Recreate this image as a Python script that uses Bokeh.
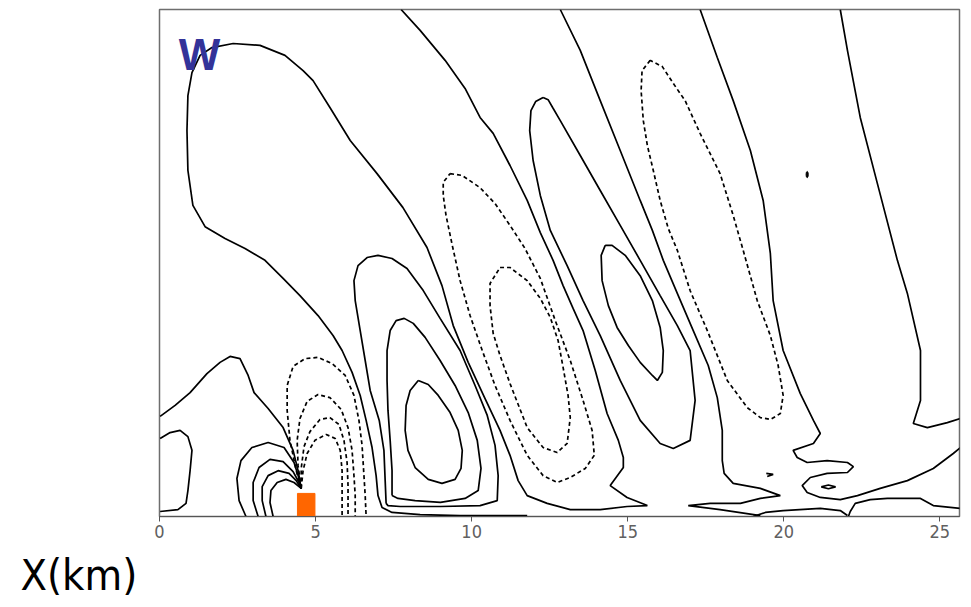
from bokeh.plotting import figure
from bokeh.models import Range1d, FixedTicker, Label, Title
from bokeh.embed import file_html
from bokeh.resources import INLINE

# ---- data: contour lines of w (x in km, z in km) ----
# solid = zero / positive contours, dashed = negative contours
zero_main = [(11.78,0.03),(9.63,0.03),(8.35,0.06),(7.45,0.13),(7.13,0.29),(7.00,0.67),(6.94,1.31),
    (6.81,2.21),(6.62,3.08),(6.43,3.88),(6.17,4.62),(5.85,5.32),(5.56,5.80),(5.08,6.44),(4.50,7.08),
    (3.96,7.63),(3.38,8.21),(2.74,8.59),(2.10,8.91),(1.46,9.29),(1.07,9.97),(0.91,11.09),(0.88,12.37),
    (0.91,13.49),(1.04,14.23),(1.30,14.78),(1.68,15.03),(2.36,15.16),(3.22,15.10),(4.02,14.78),
    (4.60,14.29),(4.92,13.97),(5.46,13.11),(6.11,12.05),(6.97,10.99),(7.80,9.90),(8.57,8.62),
    (9.05,7.40),(9.41,6.12),(9.89,4.94),(10.43,3.78),(10.91,2.76),(11.23,1.96),(11.49,1.15),
    (11.78,0.67),(12.42,0.42),(13.16,0.22),(14.12,0.22),(14.98,0.32),(15.63,0.35),(14.98,0.61),
    (14.44,0.99),(14.86,1.57),(14.86,1.89),(14.70,2.44),(14.34,3.30),(13.96,4.68),(13.57,5.96),
    (13.25,6.67),(12.93,7.40),(12.61,8.21),(12.20,9.10),(11.78,10.13),(11.23,11.25),(10.69,12.28),
    (10.27,12.79),(9.79,13.72),(9.15,14.62),(8.35,15.58),(7.74,16.25)]
hump = [(0.02,3.21),(0.50,3.56),(0.98,3.97),(1.52,4.58),(1.94,4.94),(2.26,5.13),(2.58,5.06),
    (2.84,4.52),(3.03,3.97),(3.48,3.46),(3.96,2.85),(4.28,2.12),(4.44,1.47),(4.54,0.90)]
left_loop = [(0.02,2.50),(0.34,2.69),(0.66,2.76),(0.91,2.56),(1.04,2.12),(0.98,1.47),(0.91,0.83),
    (0.85,0.42),(0.59,0.22),(0.02,0.16)]
pos_src_1 = [(2.77,0.0),(2.55,0.51),(2.48,1.22),(2.61,1.79),(2.96,2.21),(3.48,2.37),(3.99,2.21),
    (4.31,1.73),(4.47,1.22),(4.54,0.90)]
pos_src_2 = [(3.16,0.0),(3.00,0.51),(3.00,1.09),(3.19,1.57),(3.54,1.83),(3.96,1.76),(4.28,1.44),
    (4.47,1.09),(4.54,0.90)]
pos_src_3 = [(3.41,0.0),(3.29,0.51),(3.29,0.96),(3.48,1.31),(3.80,1.47),(4.15,1.38),(4.38,1.15),(4.54,0.90)]
pos_src_4 = [(3.64,0.0),(3.54,0.45),(3.57,0.83),(3.77,1.09),(4.05,1.19),(4.31,1.09),(4.54,0.90)]
neg_src_1 = [(4.54,0.90),(4.38,1.47),(4.18,2.44),(4.09,3.40),(4.09,4.20),(4.28,4.81),(4.66,5.06),
    (5.08,5.10),(5.53,4.90),(5.95,4.52),(6.23,3.88),(6.39,3.08),(6.49,2.28),(6.55,1.31),(6.59,0.67),(6.62,0.0)]
neg_src_2 = [(4.54,0.90),(4.44,1.63),(4.41,2.44),(4.50,3.14),(4.73,3.69),(5.08,3.91),(5.46,3.81),
    (5.82,3.43),(6.04,2.85),(6.17,2.12),(6.23,1.31),(6.27,0.67),(6.27,0.0)]
neg_src_3 = [(4.54,0.90),(4.54,1.54),(4.63,2.24),(4.82,2.72),(5.14,3.11),(5.46,3.17),(5.75,2.95),
    (5.91,2.44),(6.01,1.73),(6.04,0.99),(6.04,0.51),(6.04,0.0)]
neg_src_4 = [(4.54,0.90),(4.60,1.47),(4.73,2.02),(4.98,2.44),(5.34,2.63),(5.63,2.50),(5.79,2.12),
    (5.85,1.47),(5.85,0.83),(5.85,0.0)]
pos_lobe_1 = [(7.26,0.42),(7.23,1.15),(7.19,2.12),(7.04,3.08),(6.75,4.04),(6.59,5.00),(6.43,5.96),
    (6.27,6.92),(6.23,7.56),(6.36,8.04),(6.65,8.30),(7.00,8.37),(7.45,8.27),(7.93,7.95),(8.45,7.24),
    (8.99,6.35),(9.63,5.32),(10.11,4.20),(10.50,3.24),(10.75,2.28),(10.85,1.31),(10.82,0.51),
    (10.27,0.35),(9.00,0.32),(7.71,0.32),(7.32,0.35),(7.26,0.42)]
pos_lobe_2 = [(7.45,0.67),(7.45,1.47),(7.39,2.44),(7.32,3.40),(7.29,4.36),(7.29,5.32),(7.39,5.96),
    (7.58,6.28),(7.84,6.35),(8.13,6.19),(8.51,5.74),(8.99,5.00),(9.47,4.20),(9.89,3.33),(10.18,2.44),
    (10.30,1.54),(10.21,0.83),(9.79,0.58),(9.00,0.45),(8.19,0.51),(7.64,0.58),(7.45,0.67)]
pos_lobe_3 = [(8.29,4.36),(8.03,4.04),(7.90,3.56),(7.87,2.76),(7.96,2.12),(8.19,1.57),(8.61,1.19),
    (9.05,1.06),(9.47,1.19),(9.66,1.54),(9.70,2.12),(9.57,2.76),(9.31,3.33),(8.93,3.88),(8.61,4.23),(8.29,4.36)]
neg_lobe_a = [(9.31,10.99),(9.70,10.93),(10.27,10.54),(10.75,10.03),(11.23,9.33),(11.71,8.59),
    (12.20,7.63),(12.68,6.28),(13.16,5.00),(13.57,3.72),(13.86,2.76),(13.93,1.96),(13.64,1.54),
    (13.16,1.25),(12.74,1.09),(12.29,1.31),(11.78,1.96),(11.23,3.08),(10.75,4.20),(10.34,5.32),
    (9.95,6.44),(9.63,7.56),(9.38,8.69),(9.18,9.65),(9.09,10.29),(9.09,10.71),(9.31,10.99)]
neg_lobe_b = [(10.91,7.98),(11.23,7.98),(11.78,7.56),(12.20,6.99),(12.52,6.38),(12.77,5.64),
    (12.93,4.78),(13.09,3.88),(13.16,3.17),(13.06,2.34),(12.74,2.05),(12.29,2.21),(11.78,2.85),
    (11.23,4.26),(10.91,5.16),(10.69,5.87),(10.59,6.76),(10.59,7.47),(10.91,7.98)]
pos_lobe_4 = [(12.29,13.43),(12.05,13.30),(11.90,13.01),(11.86,12.37),(11.97,11.41),(12.20,10.29),(12.52,9.17),
    (13.06,8.04),(13.57,6.92),(14.12,5.80),(14.76,4.36),(15.40,3.08),(16.04,2.34),(16.46,2.18),
    (17.00,2.44),(17.16,3.72),(17.00,5.32),(16.59,6.12),(16.04,7.08),(15.40,8.21),(14.76,9.33),
    (14.12,10.45),(13.48,11.57),(12.84,12.69),(12.60,13.10),(12.45,13.36),(12.29,13.43)]
pos_lobe_5 = [(14.28,8.69),(14.15,8.37),(14.18,7.56),(14.38,6.76),(14.66,6.06),(15.02,5.48),
    (15.40,4.94),(15.79,4.52),(15.95,4.36),(16.11,4.62),(16.14,5.32),(16.04,6.06),(15.79,6.92),
    (15.40,7.72),(14.92,8.37),(14.50,8.69),(14.28,8.69)]
zero_c = [(12.84,16.25),(13.48,14.94),(14.12,13.33),(14.76,11.73),(15.40,10.13),(15.79,9.17),
    (16.14,8.21),(16.62,7.08),(17.10,5.96),(17.58,4.84),(17.87,3.81),(18.03,2.76),(18.03,1.79),
    (18.09,1.38),(18.38,1.06),(19.25,0.90),(19.89,0.67),(19.25,0.58),(18.61,0.42),(17.64,0.42),
    (16.94,0.35),(17.96,0.22),(19.25,0.03)]
neg_lobe_c = [(15.72,14.62),(15.46,14.29),(15.43,13.65),(15.50,12.69),(15.63,11.89),(15.82,11.09),
    (16.04,10.13),(16.30,9.23),(16.59,8.53),(17.00,7.24),(17.55,5.96),(18.19,4.36),(18.83,3.49),
    (19.25,3.17),(19.57,3.11),(19.89,3.30),(19.98,3.88),(19.82,4.84),(19.57,5.80),(19.15,6.92),
    (18.70,8.53),(18.38,9.65),(17.96,10.99),(17.32,12.28),(16.84,13.33),(16.46,13.88),(16.11,14.42),(15.72,14.62)]
zero_e = [(17.32,16.25),(17.87,14.71),(18.38,13.33),(18.93,11.73),(19.34,10.13),(19.57,8.43),
    (19.66,6.92),(19.98,5.32),(20.53,3.94),(20.95,3.08),(21.17,2.66),(20.95,2.34),(20.30,2.12),
    (20.43,1.89),(20.75,1.73),(21.39,1.79),(22.04,1.73),(22.23,1.60),(22.04,1.41),(21.39,1.38),
    (20.85,1.25),(20.59,0.99),(20.75,0.77),(21.17,0.61),(21.81,0.54),(22.36,0.67),(23.09,0.90),
    (23.96,1.15),(24.79,1.54),(25.43,2.02),(25.66,2.21)]
zero_f = [(21.81,16.25),(22.04,14.94),(22.45,12.79),(23.00,10.67),(23.64,8.21),(23.96,7.15),
    (24.38,5.32),(24.38,3.72),(24.15,2.98),(24.60,2.85),(25.24,3.01),(25.66,3.14)]
zero_g = [(22.07,0.0),(22.13,0.16),(22.29,0.42),(22.77,0.54),(23.32,0.58),(24.38,0.58),(24.79,0.35),(25.66,0.26)]
zero_h = [(19.02,0.0),(19.41,0.13),(19.98,0.19),(21.17,0.26),(21.81,0.19),(22.04,0.03)]
small_mark = [(19.44,1.38),(19.66,1.35),(19.47,1.28)]
small_cell = [(21.20,0.95),(21.43,1.01),(21.66,0.95),(21.43,0.89),(21.20,0.95)]
dot_x, dot_z = [20.75], [10.96]

solid_lines = [zero_main, hump, left_loop, pos_src_1, pos_src_2, pos_src_3, pos_src_4,
               pos_lobe_1, pos_lobe_2, pos_lobe_3, pos_lobe_4, pos_lobe_5, zero_c, zero_e,
               zero_f, zero_g, zero_h, small_mark, small_cell]
dashed_lines = [neg_src_1, neg_src_2, neg_src_3, neg_src_4, neg_lobe_a, neg_lobe_b, neg_lobe_c]

# heat source block
src_left, src_right, src_bottom, src_top = [4.42], [4.98], [0.0], [0.74]
x_ticks = [0, 5, 10, 15, 20, 25]

p = figure(width=963, height=607, output_backend="svg", toolbar_location=None,
           x_range=Range1d(0, 25.63), y_range=Range1d(0, 16.25),
           min_border_left=159, min_border_right=4, min_border_top=9, min_border_bottom=91)
p.grid.visible = False
p.yaxis.visible = False
p.background_fill_color = "white"
p.outline_line_color = "#6e6e6e"
p.outline_line_width = 1.5

p.multi_line([[pt[0] for pt in l] for l in solid_lines], [[pt[1] for pt in l] for l in solid_lines],
             line_color="black", line_width=1.7)
p.multi_line([[pt[0] for pt in l] for l in dashed_lines], [[pt[1] for pt in l] for l in dashed_lines],
             line_color="black", line_width=1.7, line_dash="4 3")
p.ellipse(x=dot_x, y=dot_z, width=0.07, height=0.2, fill_color="black", line_color="black")
p.quad(left=src_left, right=src_right, bottom=src_bottom, top=src_top,
       fill_color="#ff6600", line_color="#ff6600")

narrow = "DejaVu Sans Condensed, sans-serif"
ax = p.xaxis[0]
ax.ticker = FixedTicker(ticks=x_ticks)
ax.minor_tick_line_color = None
ax.major_tick_out = 5
ax.major_tick_in = 0
ax.axis_line_color = "#555555"
ax.major_tick_line_color = "#555555"
ax.major_label_text_color = "#606060"
ax.major_label_text_font = narrow
ax.major_label_text_font_size = "18px"
ax.major_label_standoff = 3

p.add_layout(Label(x=0.62, y=14.81, text="W", text_font="Liberation Sans", text_font_style="bold",
                   text_font_size="44px", text_color="#333399", text_baseline="alphabetic"))
p.add_layout(Title(text="X(km)", align="left", offset=-139, standoff=14, text_font=narrow,
                   text_font_size="43px", text_font_style="normal", text_color="black"), "below")

open("out.html", "w").write(file_html(p, INLINE))
